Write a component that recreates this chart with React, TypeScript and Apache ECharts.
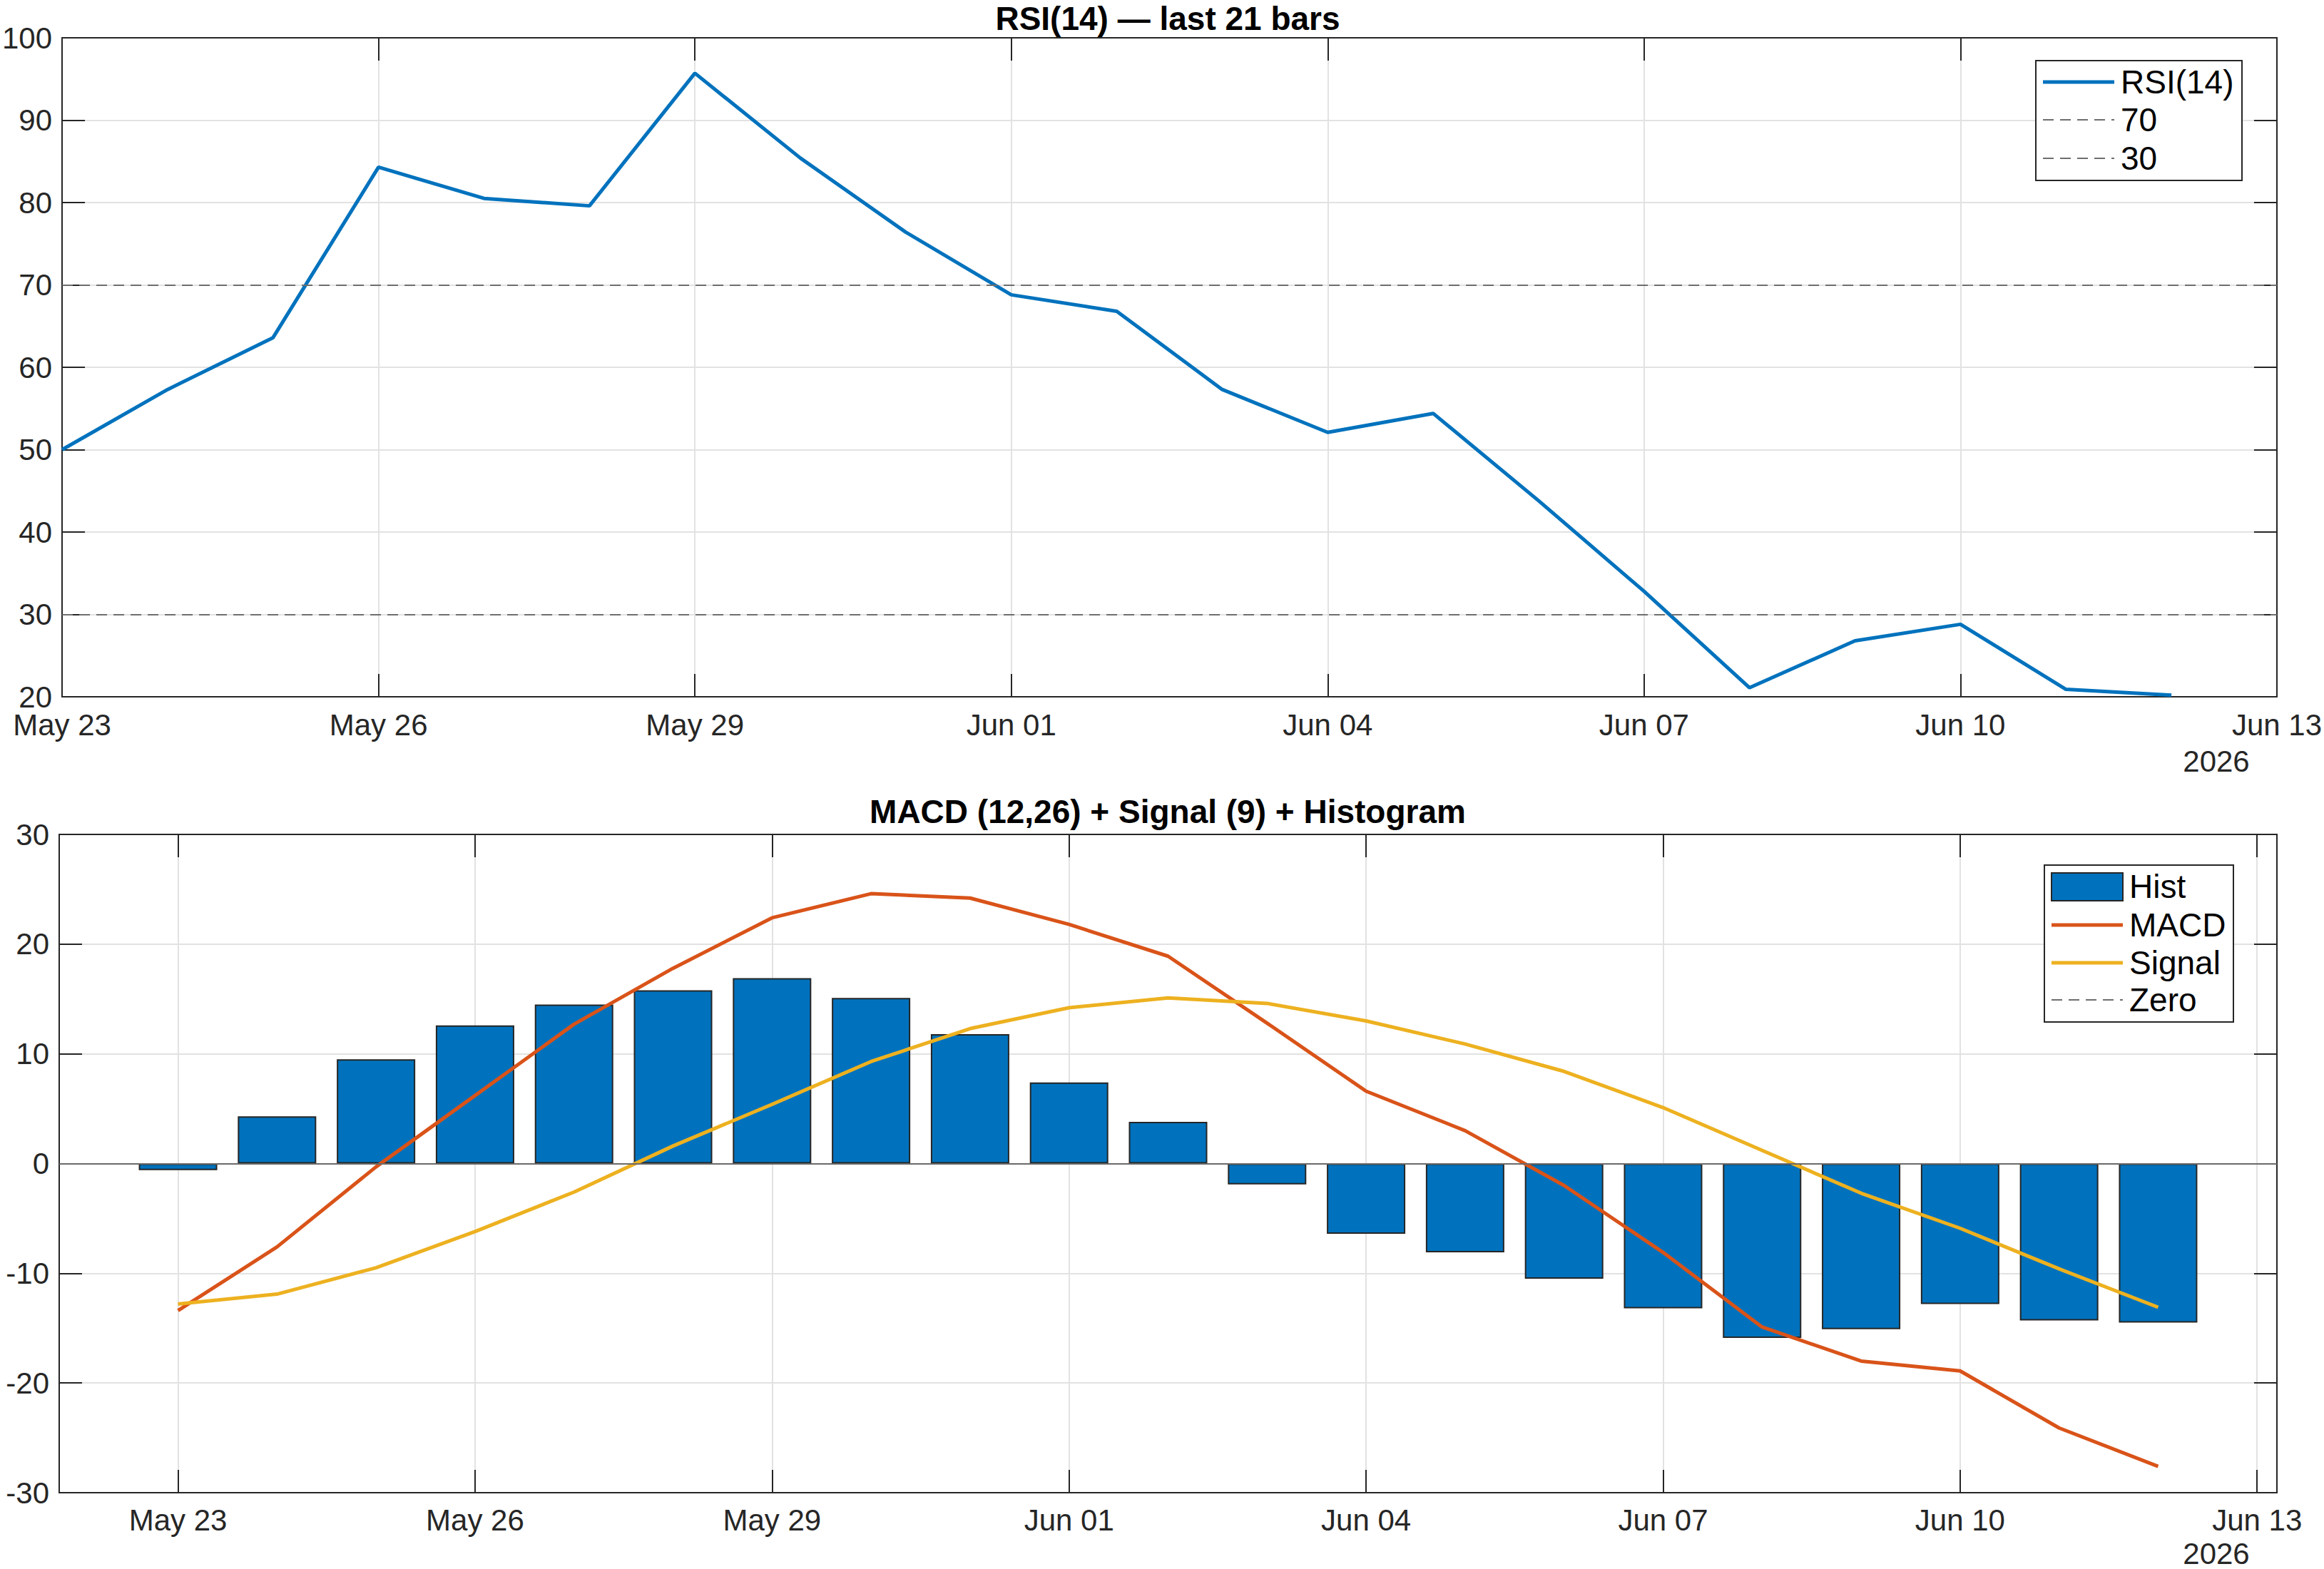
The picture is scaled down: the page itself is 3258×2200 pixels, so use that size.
import React, { useEffect, useRef } from "react";
import * as echarts from "echarts";

// ---- data ----
const barDates = [
  "May 23", "May 24", "May 25", "May 26", "May 27", "May 28", "May 29",
  "May 30", "May 31", "Jun 01", "Jun 02", "Jun 03", "Jun 04", "Jun 05",
  "Jun 06", "Jun 07", "Jun 08", "Jun 09", "Jun 10", "Jun 11", "Jun 12",
];
const rsi = [50.0, 57.3, 63.6, 84.3, 80.5, 79.6, 95.7, 85.4, 76.4, 68.8, 66.8, 57.3, 52.1, 54.4, 43.8, 32.8, 21.1, 26.8, 28.8, 20.9, 20.2];
const hist = [-0.6, 4.3, 9.5, 12.6, 14.5, 15.8, 16.9, 15.1, 11.8, 7.4, 3.8, -1.9, -6.4, -8.1, -10.5, -13.2, -15.9, -15.1, -12.8, -14.3, -14.5];
const macd = [-13.4, -7.6, -0.3, 6.2, 12.7, 17.8, 22.4, 24.6, 24.2, 21.8, 18.9, 12.8, 6.6, 3.0, -2.0, -8.1, -14.9, -18.0, -18.9, -24.1, -27.6];
const signal = [-12.8, -11.9, -9.5, -6.2, -2.6, 1.6, 5.4, 9.3, 12.3, 14.2, 15.1, 14.6, 13.0, 10.9, 8.4, 5.1, 1.2, -2.7, -5.9, -9.6, -13.1];
const xTickDays = [0, 3, 6, 9, 12, 15, 18, 21];
const xTickLabels = ["May 23", "May 26", "May 29", "Jun 01", "Jun 04", "Jun 07", "Jun 10", "Jun 13"];
const yearLabel = "2026";
const rsiLevels = [70, 30];
const rsiTitle = "RSI(14) — last 21 bars";
const macdTitle = "MACD (12,26) + Signal (9) + Histogram";

const FONT = "'Liberation Sans', Arial, Helvetica, sans-serif";
const AX = "#262626";
const BLUE = "#0072BD";
const ORANGE = "#D95319";
const YELLOW = "#EDB120";
const GRIDC = "#e2e2e2";
const DASHC = "#6e6e6e";

const fmtX = (v: number) => {
  const i = xTickDays.indexOf(Math.round(v));
  return i >= 0 && Math.abs(v - Math.round(v)) < 1e-6 ? xTickLabels[i] : "";
};

export default function App() {
  const ref = useRef<HTMLDivElement>(null);
  useEffect(() => {
    if (!ref.current) return;
    const chart = echarts.init(ref.current, undefined, { renderer: "svg" });

    const axisLine = { show: true, onZero: false, lineStyle: { color: AX, width: 2 } };
    const axisTick = { show: true, inside: true, length: 32, lineStyle: { color: AX, width: 2 } };
    const splitLine = { show: true, lineStyle: { color: GRIDC, width: 2 } };
    const label = { color: AX, fontSize: 42, fontFamily: FONT };

    const L = 83, W = 3109;
    const grids = [
      { left: L, top: 53, width: W, height: 924 },
      { left: L, top: 1170, width: W, height: 923 },
    ];

    const xAxes: any[] = [
      {
        type: "value", gridIndex: 0, position: "bottom", min: 0, max: 21, interval: 3,
        axisLine, axisTick, splitLine,
        axisLabel: { ...label, margin: 18, formatter: fmtX, showMinLabel: true, showMaxLabel: true },
      },
      {
        type: "value", gridIndex: 0, position: "top", min: 0, max: 21, interval: 3,
        axisLine, axisTick, splitLine: { show: false }, axisLabel: { show: false },
      },
      {
        type: "value", gridIndex: 1, position: "bottom", min: -1.2, max: 21.2,
        axisLine,
        axisTick: { ...axisTick, customValues: xTickDays },
        splitLine,
        axisLabel: { ...label, margin: 17, formatter: fmtX, customValues: xTickDays },
      },
      {
        type: "value", gridIndex: 1, position: "top", min: -1.2, max: 21.2,
        axisLine,
        axisTick: { ...axisTick, customValues: xTickDays },
        splitLine: { show: false },
        axisLabel: { show: false, customValues: xTickDays },
      },
    ];

    const yAxes: any[] = [
      {
        type: "value", gridIndex: 0, position: "left", min: 20, max: 100, interval: 10,
        axisLine, axisTick, splitLine, axisLabel: { ...label, margin: 14 },
      },
      {
        type: "value", gridIndex: 0, position: "right", min: 20, max: 100, interval: 10,
        axisLine, axisTick, splitLine: { show: false }, axisLabel: { show: false },
      },
      {
        type: "value", gridIndex: 1, position: "left", min: -30, max: 30, interval: 10,
        axisLine, axisTick, splitLine, axisLabel: { ...label, margin: 14 },
      },
      {
        type: "value", gridIndex: 1, position: "right", min: -30, max: 30, interval: 10,
        axisLine, axisTick, splitLine: { show: false }, axisLabel: { show: false },
      },
    ];

    const legendFont = { fontSize: 46, fontFamily: FONT, fill: "#000" };
    const legTop = (y: number, t: string) => ({ type: "text", x: 2973, y, style: { text: t, ...legendFont, textVerticalAlign: "middle", textAlign: "left" } });
    const legBot = (y: number, t: string) => ({ type: "text", x: 2985, y, style: { text: t, ...legendFont, textVerticalAlign: "middle", textAlign: "left" } });

    const graphic: any[] = [
      { type: "rect", shape: { x: 2854, y: 85, width: 289, height: 168 }, style: { fill: "#fff", stroke: AX, lineWidth: 2 }, z: 100 },
      { type: "line", shape: { x1: 2864, y1: 115, x2: 2964, y2: 115 }, style: { stroke: BLUE, lineWidth: 5 }, z: 101 },
      { ...legTop(115, "RSI(14)"), z: 101 },
      { type: "line", shape: { x1: 2864, y1: 168, x2: 2964, y2: 168 }, style: { stroke: DASHC, lineWidth: 2, lineDash: [15, 9] }, z: 101 },
      { ...legTop(168, String(rsiLevels[0])), z: 101 },
      { type: "line", shape: { x1: 2864, y1: 222, x2: 2964, y2: 222 }, style: { stroke: DASHC, lineWidth: 2, lineDash: [15, 9] }, z: 101 },
      { ...legTop(222, String(rsiLevels[1])), z: 101 },
      { type: "rect", shape: { x: 2866, y: 1213, width: 265, height: 220 }, style: { fill: "#fff", stroke: AX, lineWidth: 2 }, z: 100 },
      { type: "rect", shape: { x: 2876, y: 1224, width: 100, height: 39 }, style: { fill: BLUE, stroke: AX, lineWidth: 2 }, z: 101 },
      { ...legBot(1243, "Hist"), z: 101 },
      { type: "line", shape: { x1: 2876, y1: 1297, x2: 2976, y2: 1297 }, style: { stroke: ORANGE, lineWidth: 5 }, z: 101 },
      { ...legBot(1297, "MACD"), z: 101 },
      { type: "line", shape: { x1: 2876, y1: 1350, x2: 2976, y2: 1350 }, style: { stroke: YELLOW, lineWidth: 5 }, z: 101 },
      { ...legBot(1350, "Signal"), z: 101 },
      { type: "line", shape: { x1: 2876, y1: 1402, x2: 2976, y2: 1402 }, style: { stroke: DASHC, lineWidth: 2, lineDash: [15, 9] }, z: 101 },
      { ...legBot(1402, "Zero"), z: 101 },
      { type: "text", x: 3107, y: 1067, style: { text: yearLabel, fontSize: 42, fontFamily: FONT, fill: AX, textAlign: "center", textVerticalAlign: "middle" } },
      { type: "text", x: 3107, y: 2178, style: { text: yearLabel, fontSize: 42, fontFamily: FONT, fill: AX, textAlign: "center", textVerticalAlign: "middle" } },
    ];

    const option: any = {
      animation: false,
      backgroundColor: "#ffffff",
      title: [
        { text: rsiTitle, left: 1637, top: 3, padding: 0, textAlign: "center", textStyle: { fontSize: 46, fontWeight: "bold", fontFamily: FONT, color: "#000" } },
        { text: macdTitle, left: 1637, top: 1115, padding: 0, textAlign: "center", textStyle: { fontSize: 46, fontWeight: "bold", fontFamily: FONT, color: "#000" } },
      ],
      grid: grids,
      xAxis: xAxes,
      yAxis: yAxes,
      graphic,
      series: [
        {
          name: "RSI(14)", type: "line", xAxisIndex: 0, yAxisIndex: 0,
          data: rsi.map((v, i) => [i, v]),
          showSymbol: false, symbol: "none",
          lineStyle: { color: BLUE, width: 5 }, itemStyle: { color: BLUE },
          markLine: {
            silent: true, symbol: ["none", "none"], label: { show: false },
            lineStyle: { color: DASHC, width: 2, type: [15, 9] },
            data: rsiLevels.map((v) => ({ yAxis: v })),
          },
          z: 3,
        },
        {
          name: "Hist", type: "bar", xAxisIndex: 2, yAxisIndex: 2,
          data: hist.map((v, i) => [i, v]),
          barWidth: 110,
          itemStyle: { color: BLUE, borderColor: AX, borderWidth: 2 },
          markLine: {
            silent: true, symbol: ["none", "none"], label: { show: false },
            lineStyle: { color: "#6a6a6a", width: 2, type: "solid" },
            data: [{ yAxis: 0 }],
          },
          z: 2,
        },
        {
          name: "MACD", type: "line", xAxisIndex: 2, yAxisIndex: 2,
          data: macd.map((v, i) => [i, v]),
          showSymbol: false, symbol: "none",
          lineStyle: { color: ORANGE, width: 5 }, itemStyle: { color: ORANGE }, z: 3,
        },
        {
          name: "Signal", type: "line", xAxisIndex: 2, yAxisIndex: 2,
          data: signal.map((v, i) => [i, v]),
          showSymbol: false, symbol: "none",
          lineStyle: { color: YELLOW, width: 5 }, itemStyle: { color: YELLOW }, z: 3,
        },
      ],
    };
    void barDates;
    chart.setOption(option);
    return () => chart.dispose();
  }, []);

  return (
    <div
      ref={ref}
      style={{ position: "fixed", left: 0, top: 0, width: 3258, height: 2200, background: "#fff" }}
    />
  );
}
